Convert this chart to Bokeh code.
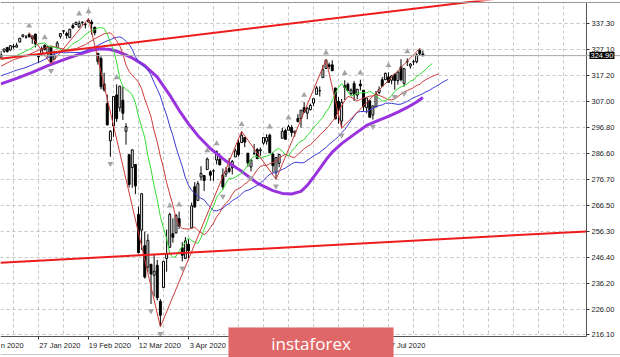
from bokeh.plotting import figure
from bokeh.models import (Range1d, FixedTicker, PrintfTickFormatter, Span, Label,
                          BoxAnnotation, ColumnDataSource, LinearAxis, Grid)
from bokeh.embed import file_html
from bokeh.resources import INLINE

# ---------------- data (daily candles) ----------------
dates = [
    "2020-01-08", "2020-01-09", "2020-01-10", "2020-01-13", "2020-01-14", "2020-01-15",
    "2020-01-16", "2020-01-17", "2020-01-21", "2020-01-22", "2020-01-23", "2020-01-24",
    "2020-01-27", "2020-01-28", "2020-01-29", "2020-01-30", "2020-01-31",
    "2020-02-03", "2020-02-04", "2020-02-05", "2020-02-06", "2020-02-07", "2020-02-10",
    "2020-02-11", "2020-02-12", "2020-02-13", "2020-02-14", "2020-02-18", "2020-02-19",
    "2020-02-20", "2020-02-21", "2020-02-24", "2020-02-25", "2020-02-26", "2020-02-27",
    "2020-02-28",
    "2020-03-02", "2020-03-03", "2020-03-04", "2020-03-05", "2020-03-06", "2020-03-09",
    "2020-03-10", "2020-03-11", "2020-03-12", "2020-03-13", "2020-03-16", "2020-03-17",
    "2020-03-18", "2020-03-19", "2020-03-20", "2020-03-23", "2020-03-24", "2020-03-25",
    "2020-03-26", "2020-03-27", "2020-03-30", "2020-03-31",
    "2020-04-01", "2020-04-02", "2020-04-03", "2020-04-06", "2020-04-07", "2020-04-08",
    "2020-04-09", "2020-04-13", "2020-04-14", "2020-04-15", "2020-04-16", "2020-04-17",
    "2020-04-20", "2020-04-21", "2020-04-22", "2020-04-23", "2020-04-24", "2020-04-27",
    "2020-04-28", "2020-04-29", "2020-04-30",
    "2020-05-01", "2020-05-04", "2020-05-05", "2020-05-06", "2020-05-07", "2020-05-08",
    "2020-05-11", "2020-05-12", "2020-05-13", "2020-05-14", "2020-05-15", "2020-05-18",
    "2020-05-19", "2020-05-20", "2020-05-21", "2020-05-22", "2020-05-26", "2020-05-27",
    "2020-05-28", "2020-05-29",
    "2020-06-01", "2020-06-02", "2020-06-03", "2020-06-04", "2020-06-05", "2020-06-08",
    "2020-06-09", "2020-06-10", "2020-06-11", "2020-06-12", "2020-06-15", "2020-06-16",
    "2020-06-17", "2020-06-18", "2020-06-19", "2020-06-22", "2020-06-23", "2020-06-24",
    "2020-06-25", "2020-06-26", "2020-06-29", "2020-06-30",
    "2020-07-01", "2020-07-02", "2020-07-06", "2020-07-07", "2020-07-08", "2020-07-09",
    "2020-07-10", "2020-07-13", "2020-07-14", "2020-07-15", "2020-07-16", "2020-07-17",
    "2020-07-20", "2020-07-21", "2020-07-22",
]

opens = [
    323.8, 326.6, 328.1, 327.1, 328.5, 328.2, 330.2, 332.4, 332.1, 333.1, 331.6, 333.3, 324.8, 325.5, 328.9, 325.6, 328.2,
    323.5, 328.0, 332.4, 334.4, 333.5, 331.9, 336.6, 337.0, 336.1, 337.8, 336.9, 338.0, 338.0, 336.0, 325.8, 323.8, 313.9, 306.2, 291.7,
    297.5, 309.6, 304.6, 307.5, 295.4, 286.3, 281.3, 282.5, 263.0, 256.9, 250.8, 242.5, 243.6, 239.3, 243.2, 229.1, 234.5, 245.8, 250.2, 255.5, 255.8, 261.4,
    250.0, 245.9, 251.4, 257.8, 273.8, 268.5, 277.6, 278.2, 280.5, 279.6, 279.9, 284.2, 284.5, 278.4, 278.7, 281.0, 281.2, 285.4, 290.9, 291.0, 293.0,
    286.9, 281.5, 286.8, 288.3, 287.8, 290.8, 291.5, 293.9, 286.5, 279.4, 282.9, 292.7, 295.7, 295.8, 296.9, 294.8, 300.4, 300.4, 304.6, 302.5,
    303.8, 306.4, 309.8, 311.2, 316.3, 319.9, 321.3, 321.3, 312.3, 307.1, 299.4, 313.2, 313.7, 310.1, 314.0, 309.5, 313.8, 311.4, 304.6, 307.3, 301.8, 305.0,
    310.5, 315.5, 315.5, 316.6, 315.3, 317.6, 315.2, 320.5, 314.1, 322.5, 320.8, 322.4, 322.5, 326.9, 325.5,
]
highs = [
    326.7, 327.5, 328.2, 328.8, 329.4, 329.9, 331.7, 333.0, 332.9, 333.8, 332.6, 333.4, 325.9, 328.5, 329.3, 328.5, 328.2,
    326.8, 330.6, 333.7, 334.8, 334.2, 335.2, 337.5, 338.1, 338.5, 338.1, 337.6, 339.4, 338.9, 336.0, 325.9, 324.6, 318.2, 309.7, 295.9,
    309.0, 313.7, 313.1, 312.8, 298.5, 286.3, 288.2, 282.5, 266.0, 271.1, 256.3, 255.3, 243.6, 247.3, 245.3, 230.0, 244.9, 257.1, 263.7, 261.5, 263.1, 264.1,
    252.2, 254.2, 253.3, 267.6, 275.6, 276.0, 281.8, 278.2, 285.2, 280.2, 280.6, 287.9, 286.8, 280.9, 281.5, 285.0, 284.2, 288.7, 292.1, 295.4, 293.0,
    286.9, 284.3, 290.4, 288.9, 289.1, 293.0, 294.3, 294.5, 287.2, 285.3, 286.5, 296.8, 296.4, 298.0, 297.8, 295.6, 302.1, 303.6, 306.8, 304.9,
    306.2, 308.1, 313.1, 312.9, 321.2, 323.3, 322.2, 323.1, 312.3, 308.8, 308.0, 315.3, 314.4, 312.1, 315.0, 311.8, 315.5, 311.5, 308.4, 307.3, 305.4, 311.1,
    312.9, 316.6, 318.3, 318.4, 317.2, 318.0, 318.7, 323.5, 320.1, 323.8, 322.0, 323.3, 325.8, 327.7, 326.9,
]
lows = [
    323.5, 326.0, 326.1, 326.8, 327.6, 328.2, 330.1, 331.9, 331.5, 332.0, 329.5, 328.1, 322.0, 324.9, 326.9, 324.2, 321.7,
    323.5, 327.9, 331.5, 333.4, 331.5, 331.9, 335.3, 336.9, 335.7, 336.9, 335.5, 337.8, 333.1, 332.8, 321.4, 311.8, 310.8, 297.8, 285.5,
    293.2, 299.1, 303.1, 299.8, 290.2, 273.5, 273.4, 270.9, 247.9, 249.2, 238.0, 240.5, 228.1, 231.0, 229.5, 219.2, 234.5, 240.7, 250.2, 252.0, 255.6, 257.4,
    244.7, 245.6, 245.9, 257.8, 265.7, 268.5, 276.2, 272.2, 280.5, 276.1, 276.1, 282.5, 282.2, 272.7, 277.6, 279.2, 278.6, 285.4, 285.6, 290.9, 289.2,
    281.6, 279.8, 286.2, 284.5, 285.9, 290.2, 290.2, 286.9, 279.3, 276.7, 281.4, 292.7, 292.2, 295.8, 293.3, 293.3, 298.9, 296.9, 302.5, 300.1,
    303.6, 305.2, 309.8, 309.0, 316.3, 319.9, 319.6, 318.9, 300.2, 298.4, 296.6, 307.6, 311.1, 309.3, 307.2, 307.9, 311.3, 303.2, 302.4, 300.7, 300.0, 304.7,
    309.8, 312.7, 315.5, 314.3, 313.7, 311.6, 313.6, 314.9, 312.8, 320.8, 319.8, 321.2, 321.9, 324.8, 324.6,
]
closes = [
    325.3, 327.5, 326.5, 328.8, 328.3, 328.9, 331.7, 333.0, 332.1, 332.2, 332.6, 329.5, 324.4, 327.6, 327.3, 328.4, 322.6,
    324.9, 329.8, 333.5, 334.6, 332.8, 335.2, 335.8, 337.9, 337.4, 338.0, 337.0, 338.6, 337.3, 333.8, 322.6, 312.8, 311.6, 297.9, 295.4,
    309.0, 300.3, 313.0, 302.4, 297.2, 274.7, 288.2, 274.1, 248.1, 271.1, 238.6, 252.9, 239.8, 240.9, 230.5, 223.7, 244.7, 247.6, 263.0, 254.1, 262.7, 258.5,
    247.1, 252.7, 248.9, 266.4, 265.9, 275.0, 279.0, 276.2, 284.6, 278.3, 280.0, 287.5, 282.3, 273.7, 279.9, 279.8, 283.7, 287.8, 286.3, 293.9, 291.2,
    283.1, 284.2, 286.8, 284.8, 288.2, 293.0, 293.0, 287.0, 282.0, 285.2, 286.4, 295.4, 292.3, 297.2, 294.9, 295.5, 299.2, 303.6, 302.9, 304.4,
    305.5, 308.1, 312.3, 311.2, 319.4, 323.2, 320.7, 319.0, 300.2, 304.1, 306.7, 312.5, 311.3, 311.5, 309.8, 311.8, 313.1, 305.0, 308.4, 300.9, 305.3, 310.0,
    311.6, 313.0, 318.0, 314.5, 317.0, 315.2, 318.5, 315.5, 319.8, 322.7, 321.6, 322.5, 325.2, 325.7, 324.9,
]

# bar numbers are counted from the "27 Jan 2020" bar
anchor = dates.index("2020-01-27")

# Alligator lines (bar number, value), forward shift included
lips_bar = [-12, -9, -6, -3, 0, 2] + list(range(3, 127))
lips_val = [323.5, 324.0, 325.5, 327.3, 329.5, 329.9,
            328.7, 328.3, 328.2, 327.8, 327.3, 326.8, 327.3, 328.4, 329.5, 330.2, 330.9, 332.0, 333.1, 333.9,
            334.6, 335.0, 335.7, 335.8, 335.5, 333.1, 330.1, 327.0, 322.4, 316.0, 313.0, 311.7, 311.0, 309.6,
            306.6, 301.2, 297.1, 293.0, 285.8, 280.7, 274.0, 268.8, 262.2, 257.6, 253.6, 247.8, 246.2, 246.7,
            248.8, 250.4, 252.2, 253.9, 252.8, 252.2, 251.7, 253.9, 257.2, 260.2, 264.0, 266.2, 269.6, 271.3,
            272.7, 275.2, 277.1, 277.0, 277.5, 278.4, 279.0, 280.6, 282.3, 284.5, 285.8, 285.5, 284.8, 285.5,
            285.7, 286.1, 287.2, 288.2, 288.7, 287.7, 286.3, 285.8, 287.6, 289.0, 290.6, 291.6, 292.1, 293.8,
            295.1, 297.0, 298.1, 299.5, 300.9, 303.0, 304.6, 307.4, 310.3, 312.4, 314.1, 312.5, 310.8, 309.1,
            309.6, 310.2, 310.3, 310.5, 310.4, 311.0, 310.3, 309.3, 308.2, 307.2, 307.3, 308.1, 309.4, 310.9,
            312.0, 312.7, 313.3, 313.9, 315.0, 315.4, 316.8, 317.6, 318.5, 319.6, 320.9, 321.8]

teeth_bar = [-12, -8, -4, 0, 4, 6, 9, 12, 15, 18, 21] + list(range(23, 129))
teeth_val = [320.8, 323.3, 324.8, 327.0, 328.7, 328.0, 327.2, 327.6, 329.2, 331.5, 333.4,
             333.8, 332.5, 330.7, 328.7, 325.6, 321.2, 318.7, 317.2, 316.0, 314.5, 312.0, 308.0, 304.6,
             301.1, 295.6, 291.2, 285.7, 281.0, 275.4, 270.9, 266.7, 261.4, 258.7, 257.5, 257.4, 257.3,
             257.6, 258.0, 256.8, 255.9, 255.1, 256.1, 257.9, 259.7, 262.1, 263.7, 266.1, 267.3, 268.7,
             270.8, 272.5, 273.0, 273.8, 274.9, 275.7, 277.1, 278.6, 280.4, 281.7, 282.1, 282.1, 282.8,
             283.3, 283.8, 284.8, 285.8, 286.4, 286.0, 285.4, 285.2, 286.4, 287.4, 288.6, 289.5, 290.1,
             291.4, 292.5, 294.0, 295.1, 296.3, 297.6, 299.3, 300.8, 303.0, 305.3, 307.3, 309.0, 308.7,
             308.0, 307.3, 307.8, 308.4, 308.7, 309.1, 309.2, 309.7, 309.4, 308.9, 308.3, 307.6, 307.7,
             308.1, 308.9, 309.9, 310.7, 311.3, 311.8, 312.4, 313.3, 313.7, 314.8, 315.6, 316.2, 316.8,
             317.3, 317.8]

jaw_bar = list(range(-12, 132))
jaw_val = [317.0, 317.5, 317.9, 318.3, 318.8, 319.2, 319.6, 319.9, 320.3, 320.8, 321.3, 321.8,
           322.3, 322.8, 323.4, 324.1, 324.7, 325.4, 325.8, 326.2, 326.0, 326.0, 326.2, 326.2, 326.1,
           326.1, 326.3, 326.8, 327.3, 327.8, 328.2, 328.9, 329.5, 330.1, 330.7, 331.1, 331.7, 332.0,
           332.2, 331.6, 330.5, 329.3, 327.3, 324.5, 322.7, 321.5, 320.4, 319.2, 317.3, 314.4, 311.8,
           309.1, 305.1, 301.7, 297.5, 293.7, 289.2, 285.4, 281.7, 277.3, 274.4, 272.4, 271.2, 270.1,
           269.3, 268.7, 267.1, 265.8, 264.5, 264.4, 264.9, 265.4, 266.5, 267.2, 268.4, 269.1, 269.8,
           271.0, 272.1, 272.4, 273.0, 273.7, 274.3, 275.3, 276.3, 277.6, 278.6, 279.1, 279.3, 280.0,
           280.5, 281.1, 281.9, 282.7, 283.3, 283.3, 283.1, 283.2, 284.1, 284.9, 285.8, 286.5, 287.2,
           288.2, 289.1, 290.3, 291.3, 292.3, 293.4, 294.8, 296.1, 297.8, 299.6, 301.3, 302.8, 303.1,
           303.1, 303.0, 303.7, 304.4, 304.9, 305.4, 305.7, 306.3, 306.4, 306.3, 306.1, 305.9, 306.0,
           306.5, 307.1, 307.8, 308.5, 309.0, 309.5, 310.1, 310.8, 311.3, 312.1, 312.8, 313.5, 314.3,
           315.0, 315.6]

# thick purple moving average
ma_bar = [-12, -7, -2, 3, 9, 14, 17, 20, 23, 26, 30, 34, 38, 42, 45, 48, 51, 55, 60, 65, 70, 75,
          78, 81, 84, 86, 88, 90, 92, 94, 97, 101, 105, 109, 112, 115, 118, 121, 123]
ma_val = [313.9, 316.0, 318.4, 321.0, 323.7, 325.8, 327.0, 327.6, 327.3, 326.2, 324.0, 321.0, 316.5,
          309.5, 303.6, 298.3, 293.7, 288.7, 283.8, 279.8, 275.2, 272.3, 271.2, 271.0, 272.0, 274.3,
          277.5, 280.9, 284.3, 287.3, 290.6, 294.2, 297.7, 299.8, 301.2, 302.9, 304.7, 306.8, 308.6]

# ZigZag swing points and fractals (bar numbers)
zz_bar = [-3, 4, 16, 39, 65, 76, 92, 97, 122]
zz_side = ["H", "L", "H", "L", "H", "L", "H", "L", "H"]
fractal_up_bar = [-3, 2, 13, 16, 25, 42, 45, 54, 57, 65, 74, 80, 85, 92, 98, 103, 112, 118]
fractal_dn_bar = [4, 23, 36, 39, 46, 59, 68, 76, 97, 107, 114, 117]

# channel trend lines (bar number, price)
upper_trend_bar = [-12.2, 175.4]
upper_trend_price = [323.7, 351.3]
lower_trend_bar = [-12.2, 175.4]
lower_trend_price = [244.2, 256.4]

# axis ticks (the first date label is cut by the left edge of the window: only "n 2020" shows)
y_ticks = [337.30, 327.10, 317.20, 307.00, 296.80, 286.60, 276.70, 266.50, 256.30, 246.40, 236.20, 226.00, 216.10]
x_label_bar = [-16, 0, 16, 32, 48, 112]
x_labels = ["n 2020", "27 Jan 2020", "19 Feb 2020", "12 Mar 2020", "3 Apr 2020", "7 Jul 2020"]
x_tickmark_bar = [-16, 0, 16, 32, 48, 64, 80, 96, 112]

# ---------------- layout (chart area 586 x 334 px inside a 620 x 357 canvas) ----------------
W, H = 620, 357
BAR_PX = 3.125               # pixels per bar
CHART_W, CHART_TOP, CHART_BOT = 586, 2, 336
X0 = -12.16                  # bar number at the left edge
XR = X0 + CHART_W / BAR_PX   # bar number at the price axis
XC = X0 + W / BAR_PX         # bar number at the canvas right edge
YT, YB = 345.60, 215.44      # prices at top / bottom of chart area
UNIT_PER_PX = (YT - YB) / (CHART_BOT - CHART_TOP)
YC_TOP = YT + CHART_TOP * UNIT_PER_PX
YC_BOT = YB - (H - CHART_BOT) * UNIT_PER_PX
CHAR_PX = 3.7                # approx. width of one label character

p = figure(width=W, height=H, output_backend="svg", toolbar_location=None,
           x_range=Range1d(X0, XC), y_range=Range1d(YC_BOT, YC_TOP),
           x_axis_type=None, y_axis_type=None,
           min_border_left=0, min_border_right=0, min_border_top=0, min_border_bottom=0)
p.background_fill_color = "white"
p.border_fill_color = "white"
p.outline_line_color = None

GRID = "#c4c4c4"
for dim, ticks in ((0, list(range(-8, 176, 8))), (1, y_ticks)):
    g = Grid(dimension=dim, ticker=FixedTicker(ticks=ticks), grid_line_color=GRID,
             grid_line_dash="3 3", grid_line_width=1)
    p.add_layout(g, "center")

# white masks so that the grid stays inside the chart area
for kw in (dict(left=XR), dict(top=YB), dict(bottom=YT)):
    p.add_layout(BoxAnnotation(fill_color="white", fill_alpha=1.0, line_color=None,
                               level="underlay", **kw))

# x axis: MT4 style, labels to the right of their tick mark (first one held at the window edge)
label_centers = []
for b, t in zip(x_label_bar, x_labels):
    half = CHAR_PX * len(t) / 2
    label_centers.append(max(b + (1 + half) / BAR_PX, X0 + (half + 0.5) / BAR_PX))
xa = LinearAxis(fixed_location=YB, bounds=(X0, XR),
                ticker=FixedTicker(ticks=label_centers, minor_ticks=x_tickmark_bar))
xa.major_label_overrides = {c: t for c, t in zip(label_centers, x_labels)}
xa.major_tick_line_color = None
xa.major_tick_out = 0
xa.major_tick_in = 0
xa.minor_tick_line_color = "#333333"
xa.minor_tick_out = 3
xa.minor_tick_in = 0
xa.major_label_standoff = 1
xa.axis_line_color = "#555555"
xa.major_label_text_font = "Liberation Sans"
xa.major_label_text_font_size = "7.5px"
xa.major_label_text_color = "#222222"
p.add_layout(xa, "below")

ya = LinearAxis(fixed_location=XR, bounds=(YB, YT), ticker=FixedTicker(ticks=y_ticks),
                formatter=PrintfTickFormatter(format="%.2f"))
ya.major_tick_out = 3
ya.major_tick_in = 0
ya.minor_tick_line_color = None
ya.major_label_standoff = 2
ya.axis_line_color = "#555555"
ya.major_tick_line_color = "#333333"
ya.major_label_text_font = "Liberation Sans"
ya.major_label_text_font_size = "7.5px"
ya.major_label_text_color = "#222222"
p.add_layout(ya, "right")

# ---------------- candles ----------------
bars = [i - anchor for i in range(len(dates))]
src = ColumnDataSource(dict(
    x=bars, high=highs, low=lows,
    top=[max(o, c) for o, c in zip(opens, closes)],
    bottom=[min(o, c) for o, c in zip(opens, closes)],
    fill=["white" if c >= o else "black" for o, c in zip(opens, closes)],
))
p.segment(x0="x", y0="low", x1="x", y1="high", source=src, line_color="black", line_width=1)
p.vbar(x="x", width=0.62, top="top", bottom="bottom", source=src,
       fill_color="fill", line_color="black", line_width=1)

# ---------------- indicators ----------------
p.line(ma_bar, ma_val, line_color="#9933dd", line_width=3)
p.line(jaw_bar, jaw_val, line_color="#3a3ad6", line_width=1)
p.line(teeth_bar, teeth_val, line_color="#cc3b3b", line_width=1)
p.line(lips_bar, lips_val, line_color="#33dd33", line_width=1)

zz_y = [highs[b + anchor] if s == "H" else lows[b + anchor] for b, s in zip(zz_bar, zz_side)]
p.line(zz_bar, zz_y, line_color="#c83a3a", line_width=1)

ARROW_GAP = 2.7
p.scatter(fractal_up_bar, [highs[b + anchor] + ARROW_GAP for b in fractal_up_bar],
          marker="triangle", size=6, fill_color="#a4a4a4", line_color=None)
p.scatter(fractal_dn_bar, [lows[b + anchor] - ARROW_GAP for b in fractal_dn_bar],
          marker="inverted_triangle", size=6, fill_color="#a4a4a4", line_color=None)

p.line(upper_trend_bar, upper_trend_price, line_color="#ee1c1c", line_width=2)
p.line(lower_trend_bar, lower_trend_price, line_color="#ee1c1c", line_width=2)

# current price line, chart borders
p.add_layout(Span(location=closes[-1], dimension="width", line_color="#a8a8a8", line_width=1))
p.add_layout(Span(location=YT, dimension="width", line_color="#9a9a9a", line_width=1))
p.add_layout(Span(location=YC_BOT + 3 * UNIT_PER_PX, dimension="width",
                  line_color="#c8c8c8", line_width=1))

# price tag on the axis
tag_kw = dict(x=XR, y=closes[-1], x_offset=3, text=f"{closes[-1]:.2f}", text_color="white",
              text_font="Liberation Sans", text_font_size="7.5px", text_align="left",
              text_baseline="middle", background_fill_color="black", background_fill_alpha=1.0)
try:
    tag = Label(padding=1, **tag_kw)
except Exception:
    tag = Label(**tag_kw)
p.add_layout(tag)

# watermark logo
p.add_layout(BoxAnnotation(left=228, right=393, top=30, bottom=0,
                           left_units="screen", right_units="screen",
                           top_units="screen", bottom_units="screen",
                           fill_color="#e06767", fill_alpha=1.0,
                           line_color="#ee9a9a", line_width=1, level="overlay"))
p.add_layout(Label(x=310.5, y=14.5, x_units="screen", y_units="screen",
                   text="instaforex", text_color="white", text_font="Open Sans",
                   text_font_size="17px", text_align="center", text_baseline="middle",
                   level="overlay"))

open("out.html", "w").write(file_html(p, INLINE))
